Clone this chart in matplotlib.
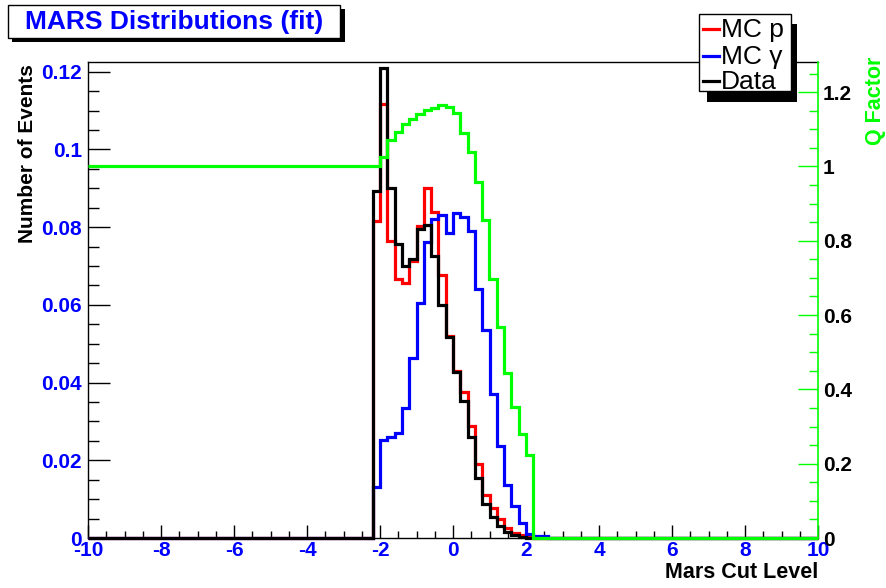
import numpy as np
import matplotlib
matplotlib.use("Agg")
import matplotlib.pyplot as plt
from matplotlib.patches import Rectangle
from matplotlib.ticker import MultipleLocator

plt.rcParams['font.family'] = ['Liberation Sans', 'DejaVu Sans']

W, H = 886, 588

# Histogram binning: 100 bins of width 0.2 over [-10, 10]
edges = np.linspace(-10, 10, 101)
first_bin = 39  # bin [-2.2, -2.0]

mc_p = [0.0815, 0.1118, 0.0765, 0.0666, 0.0655, 0.0712, 0.0803, 0.0900,
        0.0840, 0.0677, 0.0520, 0.0430, 0.0376, 0.0287, 0.0190, 0.0110,
        0.0077, 0.0048, 0.0027, 0.0014, 0.0008, 0.0003]

mc_gamma = [0.0132, 0.0253, 0.0261, 0.0269, 0.0335, 0.0462, 0.0606, 0.0761,
            0.0821, 0.0830, 0.0786, 0.0837, 0.0827, 0.0790, 0.0640, 0.0535,
            0.0371, 0.0236, 0.0137, 0.0083, 0.0038, 0.0010, 0.0004, 0.0004]

data = [0.0894, 0.1210, 0.0902, 0.0756, 0.0700, 0.0719, 0.0795, 0.0805,
        0.0726, 0.0599, 0.0517, 0.0427, 0.0352, 0.0260, 0.0155, 0.0088,
        0.0053, 0.0031, 0.0016, 0.0008, 0.0003]

# Q factor: flat at 1 below the cut region, zero above it
q_low = 1.0
q_factor = [1.000, 1.025, 1.070, 1.092, 1.113, 1.128, 1.142, 1.151, 1.158,
            1.164, 1.159, 1.144, 1.091, 1.038, 0.958, 0.857, 0.696, 0.568,
            0.445, 0.353, 0.279, 0.223]

x_ticks = [-10, -8, -6, -4, -2, 0, 2, 4, 6, 8, 10]
y_ticks = [0, 0.02, 0.04, 0.06, 0.08, 0.1, 0.12]
q_ticks = [0, 0.2, 0.4, 0.6, 0.8, 1.0, 1.2]


def full(values, start, fill=0.0):
    arr = np.full(len(edges) - 1, fill, dtype=float)
    arr[start:start + len(values)] = values
    return arr


def fx(x):
    return x / W


def fy(y):
    return 1 - y / H


fig = plt.figure(figsize=(W / 100, H / 100), dpi=100)
ax = fig.add_axes([fx(88), fy(538), fx(818) - fx(88), fy(62) - fy(538)])
ax2 = ax.twinx()

lw = 2.3
ax.stairs(full(mc_p, first_bin), edges, baseline=None, color='#ff0000', lw=lw, clip_on=False, zorder=3)
ax.stairs(full(mc_gamma, first_bin), edges, baseline=None, color='#0000ff', lw=lw, clip_on=False, zorder=4)
ax.stairs(full(data, first_bin), edges, baseline=None, color='black', lw=lw, clip_on=False, zorder=5)

q_all = full(q_factor, first_bin, fill=0.0)
q_all[:first_bin] = q_low
ax2.stairs(q_all, edges, baseline=None, color='#00ff00', lw=lw, clip_on=False, zorder=6)

ax.set_xlim(-10, 10)
ax.set_ylim(0, 0.1225)
ax2.set_ylim(0, 1.281)

ax.set_xticks(x_ticks)
ax.set_xticklabels([f"{t:g}" for t in x_ticks])
ax.set_yticks(y_ticks)
ax.set_yticklabels([f"{t:g}" for t in y_ticks])
ax2.set_yticks(q_ticks)
ax2.set_yticklabels([f"{t:g}" for t in q_ticks])

ax.xaxis.set_minor_locator(MultipleLocator(0.5))
ax.yaxis.set_minor_locator(MultipleLocator(0.005))
ax2.yaxis.set_minor_locator(MultipleLocator(0.05))

tsize = 15
ax.tick_params(axis='x', which='major', direction='in', length=9.5, width=1,
               pad=2.5, labelcolor='#0000ff', labelsize=tsize, top=False)
ax.tick_params(axis='x', which='minor', direction='in', length=5, width=1, top=False)
ax.tick_params(axis='y', which='major', direction='in', length=16, width=1,
               pad=4.3, labelcolor='#0000ff', labelsize=tsize, right=False)
ax.tick_params(axis='y', which='minor', direction='in', length=8, width=1, right=False)
ax2.tick_params(axis='y', which='major', direction='in', length=14.5, width=1,
                pad=3.6, color='#00ff00', labelcolor='black', labelsize=tsize)
ax2.tick_params(axis='y', which='minor', direction='in', length=6.5, width=1, color='#00ff00')
for lab in ax.get_xticklabels() + ax.get_yticklabels() + ax2.get_yticklabels():
    lab.set_fontweight('bold')

for side in ('left', 'right', 'top', 'bottom'):
    ax.spines[side].set_linewidth(1)
    ax.spines[side].set_color('black')
ax.spines['right'].set_visible(False)
for side in ('left', 'top', 'bottom'):
    ax2.spines[side].set_visible(False)
ax2.spines['right'].set_color('#00ff00')
ax2.spines['right'].set_linewidth(1.2)

# Axis titles
fig.text(fx(28), fy(64), "Number of Events", rotation=90, ha='center', va='top',
         fontsize=15, fontweight='bold', color='black')
fig.text(fx(876), fy(57), "Q Factor", rotation=90, ha='center', va='top',
         fontsize=15.5, fontweight='bold', color='#00ff00')
fig.text(fx(818), fy(573), "Mars Cut Level", ha='right', va='center',
         fontsize=15.5, fontweight='bold', color='black')


def px_rect(x0, y0, x1, y1, **kw):
    return Rectangle((fx(x0), fy(y1)), fx(x1) - fx(x0), fy(y0) - fy(y1),
                     transform=fig.transFigure, **kw)


# Title box with drop shadow
fig.patches.append(px_rect(12, 9, 345, 42, facecolor='black', edgecolor='none', zorder=1))
fig.patches.append(px_rect(8, 5, 340, 38, facecolor='white', edgecolor='black', lw=1, zorder=2))
fig.text(fx(174), fy(21.5), "MARS Distributions (fit)", ha='center', va='center',
         fontsize=19, fontweight='bold', color='#0000ff', zorder=3)

# Legend box with drop shadow
leg_shadow = px_rect(707, 24, 797, 102, facecolor='black', edgecolor='none', zorder=20)
leg_box = px_rect(699, 14, 791, 91, facecolor='white', edgecolor='black', lw=1, zorder=21)
fig.patches.extend([leg_shadow, leg_box])
entries = [("MC p", '#ff0000', 29), ("MC \u03b3", '#0000ff', 56), ("Data", 'black', 81)]
for label, color, yc in entries:
    fig.add_artist(plt.Line2D([fx(703), fx(719)], [fy(yc), fy(yc)], color=color, lw=2.3,
                              transform=fig.transFigure, zorder=22))
    fig.text(fx(721), fy(yc + 1), label, ha='left', va='center', fontsize=19,
             color='black', zorder=23)

fig.savefig("out.png", dpi=100, facecolor='white')
